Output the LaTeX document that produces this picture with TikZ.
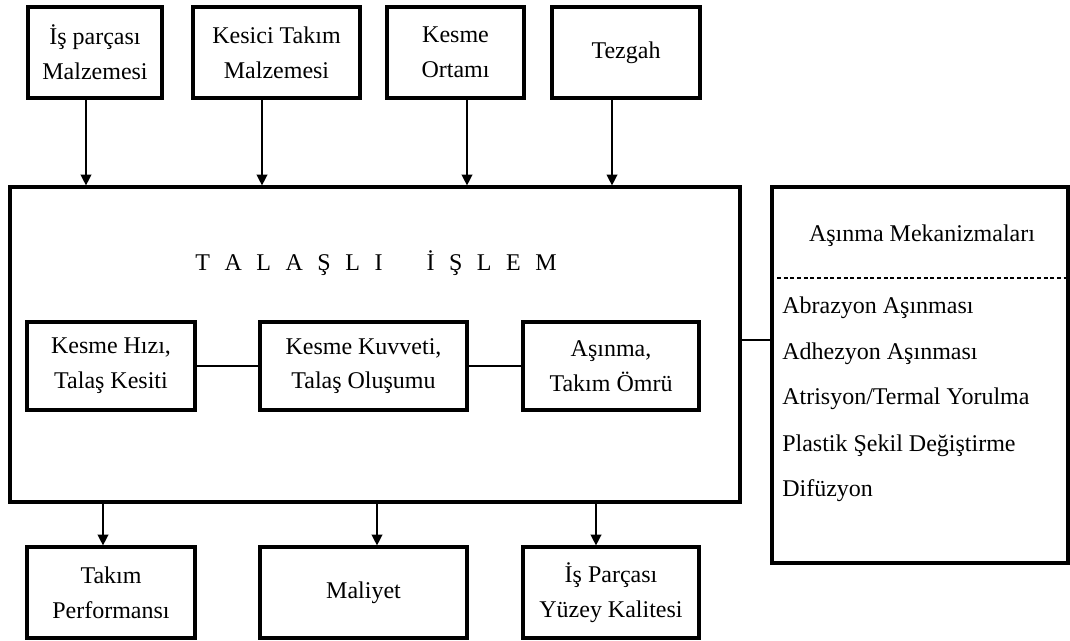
\documentclass[tikz,border=0pt]{standalone}
\usepackage{fontspec}
\setmainfont{Liberation Serif}
\usetikzlibrary{arrows.meta}
\begin{document}
\begin{tikzpicture}[x=0.75pt,y=-0.75pt,
  box/.style={draw, line width=2.4pt, inner sep=0pt, align=center, font=\fontsize{18}{26}\selectfont},
  thin/.style={line width=1pt},
  arr/.style={line width=1pt, -{Triangle[length=8pt,width=8pt]}},
  txt/.style={inner sep=0pt, font=\fontsize{18}{26}\selectfont}]
\useasboundingbox (0,0) rectangle (1070,640);
% top boxes
\node[box, minimum width=100.5pt, minimum height=68.25pt] (b1) at (95,52.5) {İş parçası\\Malzemesi};
\node[box, minimum width=125.25pt, minimum height=68.25pt] (b2) at (276.5,52.5) {Kesici Takım\\Malzemesi};
\node[box, minimum width=102.75pt, minimum height=68.25pt] (b3) at (455.5,52.5) {Kesme\\Ortamı};
\node[box, minimum width=111pt, minimum height=68.25pt] (b4) at (626,52.5) {Tezgah};
% main box
\node[box, minimum width=547.5pt, minimum height=236.25pt] (main) at (375,344.5) {};
\node[txt, anchor=base] (title) at (376,270) {T\hspace{10.9pt}A\hspace{10.9pt}L\hspace{10.9pt}A\hspace{10.9pt}Ş\hspace{10.9pt}L\hspace{10.9pt}I\hspace{33pt}İ\hspace{10.9pt}Ş\hspace{10.9pt}L\hspace{10.9pt}E\hspace{10.9pt}M};
% inner boxes
\node[box, minimum width=126pt, minimum height=66pt] (i1) at (111,366) {Kesme Hızı,\\Talaş Kesiti};
\node[box, minimum width=155.25pt, minimum height=66pt] (i2) at (363.5,366) {Kesme Kuvveti,\\Talaş Oluşumu};
\node[box, minimum width=132pt, minimum height=66pt] (i3) at (611,366) {Aşınma,\\Takım Ömrü};
\draw[thin] (i1.east) -- (i2.west);
\draw[thin] (i2.east) -- (i3.west);
% right box
\node[box, minimum width=222pt, minimum height=282pt] (rb) at (920,375) {};
\node[txt] (rbt) at (922,236) {Aşınma Mekanizmaları};
\coordinate (dl) at (rb.west |- 0,278);
\coordinate (dr) at (rb.east |- 0,278);
\draw[thin, dash pattern=on 3pt off 2pt] (dl) -- (dr);
\node[txt, anchor=west] (r1) at (782,308) {Abrazyon Aşınması};
\node[txt, anchor=west] (r2) at (782,354) {Adhezyon Aşınması};
\node[txt, anchor=west] (r3) at (782,399) {Atrisyon/Termal Yorulma};
\node[txt, anchor=west] (r4) at (782,446) {Plastik Şekil Değiştirme};
\node[txt, anchor=west] (r5) at (782,491) {Difüzyon};
\coordinate (ml) at (main.east |- 0,340);
\coordinate (mr) at (rb.west |- 0,340);
\draw[thin] (ml) -- (mr);
% bottom boxes
\node[box, minimum width=126pt, minimum height=68.25pt] (o1) at (111,592.5) {Takım\\Performansı};
\node[box, minimum width=155.25pt, minimum height=68.25pt] (o2) at (363.5,592.5) {Maliyet};
\node[box, minimum width=132pt, minimum height=68.25pt] (o3) at (611,592.5) {İş Parçası\\Yüzey Kalitesi};
% arrows in
\draw[arr] (b1.south -| 86,0) -- (main.north -| 86,0);
\draw[arr] (b2.south -| 262,0) -- (main.north -| 262,0);
\draw[arr] (b3.south -| 467,0) -- (main.north -| 467,0);
\draw[arr] (b4.south -| 612,0) -- (main.north -| 612,0);
% arrows out
\draw[arr] (main.south -| 103,0) -- (o1.north -| 103,0);
\draw[arr] (main.south -| 377,0) -- (o2.north -| 377,0);
\draw[arr] (main.south -| 596,0) -- (o3.north -| 596,0);
\end{tikzpicture}
\end{document}
